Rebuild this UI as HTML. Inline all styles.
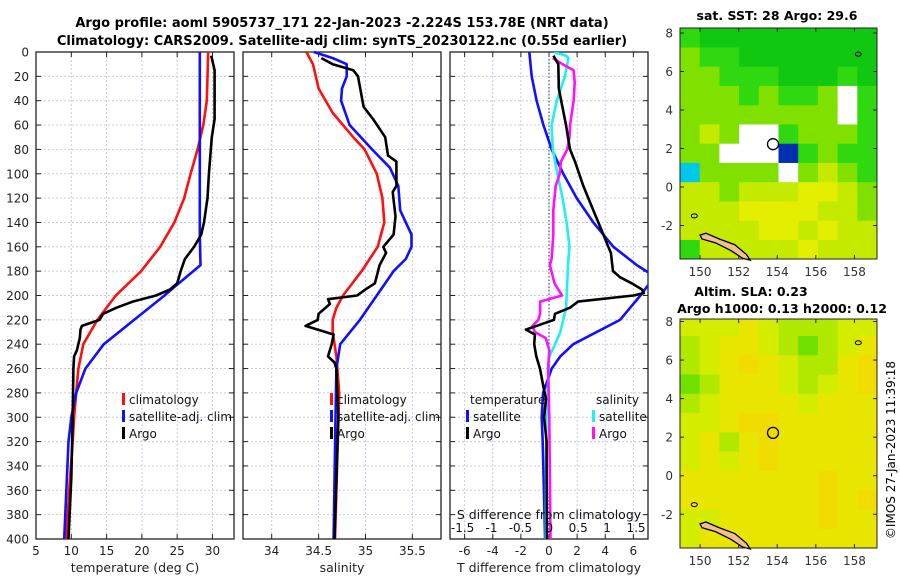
<!DOCTYPE html>
<html><head><meta charset="utf-8"><style>
body{margin:0;background:#fff;}
svg{display:block;font-family:"DejaVu Sans","Liberation Sans",sans-serif;}
</style></head><body>
<svg id="fig" width="900" height="580" viewBox="0 0 900 580" xmlns="http://www.w3.org/2000/svg">
<defs><clipPath id="clip3"><rect x="450" y="52" width="198" height="487"/></clipPath></defs>
<text x="342" y="27" text-anchor="middle" font-size="13" font-weight="bold">Argo profile: aoml 5905737_171 22-Jan-2023 -2.224S 153.78E (NRT data)</text>
<text x="342" y="45" text-anchor="middle" font-size="13" font-weight="bold">Climatology: CARS2009. Satellite-adj clim: synTS_20230122.nc (0.55d earlier)</text>
<g id="p1"></g>
<g id="p2"></g>
<g id="p3"></g>
<g id="m1"></g>
<g id="m2"></g>
<text x="777" y="20" text-anchor="middle" font-size="12.5" font-weight="bold">sat. SST: 28 Argo: 29.6</text>
<text x="751" y="296" text-anchor="middle" font-size="12.5" font-weight="bold">Altim. SLA: 0.23</text>
<text x="782" y="313" text-anchor="middle" font-size="12.5" font-weight="bold">Argo h1000: 0.13 h2000: 0.12</text>
<text transform="translate(895,450) rotate(-90)" text-anchor="middle" font-size="12">©IMOS 27-Jan-2023 11:39:18</text>
</svg>
<script>
const NS="http://www.w3.org/2000/svg";
// ---- profile data ----
const tClimDepth=[0,40,60,80,100,120,140,160,180,200,220,240,260,280,300,320,360,400];
const tClimVal=[29.4,29.2,28.7,27.9,26.9,26.0,24.6,22.6,19.9,16.3,13.7,11.7,11.0,10.7,10.4,10.2,9.7,9.3];
const tSatDepth=[0,150,175,193,200,220,240,260,280,300,320,400];
const tSatVal=[28.2,28.2,28.3,24.6,23.2,18.9,14.6,12.0,10.7,10.0,9.6,9.0];
const tArgoDepth=[3,5,15,55,70,100,120,140,150,160,170,180,190,195,200,205,210,215,220,225,228,235,245,250,260,300,350,400];
const tArgoVal=[29.8,29.9,30.3,30.3,29.9,29.5,29.3,28.8,28.4,27.4,26.1,25.5,25.0,24.0,22.0,18.7,16.4,14.5,14.0,11.5,11.3,11.2,10.8,10.4,10.3,10.2,10.0,9.6];
const sClimDepth=[0,10,30,50,70,80,100,120,140,160,180,200,210,220,230,250,280,400];
const sClimVal=[34.37,34.44,34.50,34.65,34.87,34.99,35.12,35.18,35.20,35.13,34.96,34.76,34.69,34.65,34.65,34.69,34.72,34.675];
const sSatDepth=[0,5,10,20,30,40,60,80,95,110,130,140,150,160,170,180,200,220,240,260,300,400];
const sSatVal=[34.45,34.65,34.80,34.80,34.75,34.74,34.83,35.07,35.26,35.35,35.37,35.43,35.49,35.49,35.43,35.30,35.12,34.94,34.73,34.69,34.68,34.66];
const sArgoDepth=[5,10,15,20,45,55,70,85,90,110,115,135,150,160,165,175,190,195,200,203,207,215,220,225,232,240,250,255,260,300,400];
const sArgoVal=[34.53,34.65,34.87,34.92,34.98,35.08,35.21,35.24,35.33,35.33,35.29,35.32,35.30,35.19,35.22,35.15,35.10,35.00,34.91,34.60,34.62,34.50,34.49,34.36,34.66,34.64,34.60,34.67,34.69,34.71,34.67];
const dTSatDepth=[0,20,40,60,80,100,120,140,160,175,185,193,200,220,240,250,260,280,300,320,400];
const dTSatVal=[-1.40,-1.23,-0.88,-0.40,0.19,1.02,1.97,3.15,4.58,6.24,7.6,6.95,6.5,5.05,1.73,0.8,0.19,-0.42,-0.52,-0.45,-0.28];
const dTArgoDepth=[3,10,30,60,80,90,110,130,150,160,165,175,180,185,190,195,198,200,205,210,215,220,224,228,232,240,250,260,275,285,300,320,400];
const dTArgoVal=[0.31,0.66,0.70,1.21,1.49,1.85,2.44,3.15,3.87,4.22,4.40,4.50,4.55,5.05,5.88,6.60,6.75,6.00,2.06,1.49,0.43,0.35,-0.64,-1.64,-1.00,-1.05,-0.90,-0.64,-0.40,-0.21,-0.35,-0.17,-0.15];
const dSSatDepth=[0,3,5,20,40,60,80,100,120,140,160,170,190,210,230,240,250,300,400];
const dSSatVal=[0.08,0.29,0.33,0.27,0.13,0.04,0.06,0.14,0.23,0.30,0.35,0.33,0.31,0.29,0.19,0.10,0.00,-0.05,-0.06];
const dSArgoDepth=[5,10,15,25,40,60,70,80,90,100,110,130,150,170,175,190,200,205,215,220,225,230,235,245,260,300,400];
const dSArgoVal=[0.06,0.23,0.42,0.44,0.42,0.36,0.35,0.31,0.20,0.18,0.11,0.07,0.07,0.04,0.01,0.09,0.22,-0.16,-0.16,-0.19,-0.29,-0.25,-0.06,0.00,-0.02,0.00,0.02];
const depthTicks=[0,20,40,60,80,100,120,140,160,180,200,220,240,260,280,300,320,340,360,380,400];
const tTicks=[5,10,15,20,25,30];
const sTicks=[34,34.5,35,35.5];
const dTTicks=[-6,-4,-2,0,2,4,6];
const dSTicks=[-1.5,-1,-0.5,0,0.5,1,1.5];
const dSTickLabels=["-1.5","-1","-0.5","0","0.5","1","1.5"];
// ---- map data (rows lat 8..-3, cols lon 149..158) ----
const sstGrid=[
[2,1,1,1,1,1,1,1,1,1],[3,2,2,1,1,1,1,1,1,1],[3,3,2,2,2,1,1,1,2,1],[3,3,3,2,3,2,2,3,0,2],
[3,3,3,3,3,3,3,3,0,2],[3,4,3,0,0,2,3,3,3,2],[3,3,0,0,0,7,2,3,2,2],[8,3,3,3,3,0,3,4,3,2],
[4,4,3,4,4,4,5,5,4,3],[4,4,4,5,5,5,5,4,4,3],[4,4,4,4,5,5,4,5,4,4],[2,4,4,4,4,4,5,4,4,4]];
const slaGrid=[
[2,2,2,1,2,3,3,3,2,2],[3,2,1,1,2,3,4,3,2,1],[3,2,1,0,1,2,3,3,1,0],[4,3,1,1,1,2,3,2,1,0],
[3,2,1,1,1,1,2,1,1,1],[2,2,1,0,0,1,1,1,1,1],[2,1,3,1,0,1,1,1,1,1],[2,1,2,1,0,1,1,1,1,1],
[1,1,1,1,1,1,1,0,1,1],[1,1,1,1,1,1,1,0,1,0],[2,2,1,1,1,1,1,0,1,1],[2,1,1,1,1,1,1,1,1,1]];
const sstColors=["#ffffff","#10c810","#30d810","#80e000","#c4ea00","#e4ee00","#f0d830","#0030b0","#00c8e8"];
const slaColors=["#f0dc00","#e8e600","#d4ec00","#b0e800","#70e000"];
const argoLon=153.78, argoLat=2.224;

function el(tag,attrs,parent,txt){const e=document.createElementNS(NS,tag);for(const k in attrs)e.setAttribute(k,attrs[k]);if(txt!==undefined)e.textContent=txt;parent.appendChild(e);return e;}
const Y0=52,Y1=539;
const yD=d=>Y0+(d/400)*(Y1-Y0);
function panel(g,x0,x1,xmin,xmax,vticks,labels){
  const sx=v=>x0+(v-xmin)/(xmax-xmin)*(x1-x0);
  for(const v of vticks){el('line',{x1:sx(v),x2:sx(v),y1:Y0,y2:Y1,stroke:'#c4cbe8','stroke-dasharray':'2,2','stroke-width':1},g);}
  for(const d of depthTicks){el('line',{x1:x0,x2:x1,y1:yD(d),y2:yD(d),stroke:'#c4cbe8','stroke-dasharray':'2,2','stroke-width':1},g);
    el('line',{x1:x0,x2:x0+5,y1:yD(d),y2:yD(d),stroke:'#222'},g);el('line',{x1:x1-5,x2:x1,y1:yD(d),y2:yD(d),stroke:'#222'},g);}
  if(labels){vticks.forEach((v,i)=>{el('line',{x1:sx(v),x2:sx(v),y1:Y1-5,y2:Y1,stroke:'#222'},g);el('line',{x1:sx(v),x2:sx(v),y1:Y0,y2:Y0+5,stroke:'#222'},g);
    const t=el('text',{x:sx(v),y:Y1+16,'text-anchor':'middle','font-size':12,fill:'#222'},g,labels[i]);});}
  el('rect',{x:x0,y:Y0,width:x1-x0,height:Y1-Y0,fill:'none',stroke:'#222','stroke-width':1.3},g);
  return sx;
}
function series(g,sx,ds,vs,color,name,clip){
  const pts=ds.map((d,i)=>sx(vs[i]).toFixed(1)+','+yD(d).toFixed(1)).join(' ');
  const p=el('polyline',{points:pts,fill:'none',stroke:color,'stroke-width':2.6,'stroke-linejoin':'round'},g);
  if(clip)p.setAttribute('clip-path','url(#'+clip+')');
  
  
}
function legendItem(g,x,y,color,label){
  el('rect',{x:x,y:y-7,width:3,height:12,fill:color},g);
  const t=el('text',{x:x+7,y:y+4,'font-size':12,fill:'#111'},g,label);
  
  
}
// panel 1
const g1=document.getElementById('p1');
const sx1=panel(g1,36,234,5,33.05,tTicks,tTicks.map(String));
depthTicks.forEach(d=>{const t=el('text',{x:29,y:yD(d)+4.5,'text-anchor':'end','font-size':12,fill:'#222'},g1,String(d));});
series(g1,sx1,tClimDepth,tClimVal,'#ff1010','temp-climatology-line');
series(g1,sx1,tSatDepth,tSatVal,'#1010ff','temp-satellite-line');
series(g1,sx1,tArgoDepth,tArgoVal,'#000','temp-argo-line');
el('text',{x:135,y:572,'text-anchor':'middle','font-size':12.5,fill:'#222'},g1,'temperature (deg C)');
legendItem(g1,122,400,'#ff1010','climatology');legendItem(g1,122,417,'#1010ff','satellite-adj. clim');legendItem(g1,122,434,'#000','Argo');
// panel 2
const g2=document.getElementById('p2');
const sx2=panel(g2,243,441,33.694,35.805,sTicks,sTicks.map(String));
series(g2,sx2,sClimDepth,sClimVal,'#ff1010','sal-climatology-line');
series(g2,sx2,sSatDepth,sSatVal,'#1010ff','sal-satellite-line');
series(g2,sx2,sArgoDepth,sArgoVal,'#000','sal-argo-line');
el('text',{x:342,y:572,'text-anchor':'middle','font-size':12.5,fill:'#222'},g2,'salinity');
legendItem(g2,330,400,'#ff1010','climatology');legendItem(g2,330,417,'#1010ff','satellite-adj. clim');legendItem(g2,330,434,'#000','Argo');
// panel 3
const g3=document.getElementById('p3');
const sx3=panel(g3,450,648,-7.04,7.04,dTTicks,dTTicks.map(String));
el('line',{x1:sx3(0),x2:sx3(0),y1:Y0,y2:Y1,stroke:'#333','stroke-dasharray':'1.5,2','stroke-width':1},g3);
const sxS=v=>549.3+v*57.8;
series(g3,sx3,dTSatDepth,dTSatVal,'#1010ff','dT-satellite-line','clip3');
series(g3,sxS,dSSatDepth,dSSatVal,'#20f0f0','dS-satellite-line','clip3');
series(g3,sxS,dSArgoDepth,dSArgoVal,'#ff10ff','dS-argo-line','clip3');
series(g3,sx3,dTArgoDepth,dTArgoVal,'#000','dT-argo-line','clip3');
dSTicks.forEach((v,i)=>{const t=el('text',{x:sxS(v),y:532,'text-anchor':'middle','font-size':12,fill:'#111'},g3,dSTickLabels[i]);});
el('text',{x:549,y:519,'text-anchor':'middle','font-size':12.5,fill:'#111'},g3,'S difference from climatology');
el('text',{x:549,y:572,'text-anchor':'middle','font-size':12.5,fill:'#222'},g3,'T difference from climatology');
el('text',{x:470,y:404,'font-size':12,fill:'#111'},g3,'temperature');
el('text',{x:596,y:404,'font-size':12,fill:'#111'},g3,'salinity');
legendItem(g3,466,417,'#1010ff','satellite');legendItem(g3,466,434,'#000','Argo');
legendItem(g3,592,417,'#20f0f0','satellite');legendItem(g3,592,434,'#ff10ff','Argo');
// maps
function map(g,x0,x1,y0,y1,grid,colors,latTop,latBot){
  const lonMin=148.96,lonMax=159.17;
  const mx=v=>x0+(v-lonMin)/(lonMax-lonMin)*(x1-x0);
  const my=v=>y0+(latTop-v)/(latTop-latBot)*(y1-y0);
  grid.forEach((row,r)=>row.forEach((c,ci)=>{
    const la=8.25-r, lo=lonMin+ci*(lonMax-lonMin)/10;
    const cx=mx(lo), cy=my(Math.min(la,latTop));
    const cell=el('rect',{x:cx,y:cy,width:(x1-x0)/10+0.5,height:my(Math.max(la-1,latBot))-cy+0.5,fill:colors[c]},g);
    
    
  }));
  const coast=[[150.0,-2.5],[150.3,-2.4],[151.0,-2.7],[151.8,-3.0],[152.4,-3.5],[152.6,-3.8],[152.2,-3.7],[151.6,-3.3],[150.8,-2.9],[150.1,-2.7]];
  const c=el('polygon',{points:coast.map(p=>mx(p[0])+','+my(p[1])).join(' '),fill:'#f0c090',stroke:'#000','stroke-width':1.3},g);
  
  el('ellipse',{cx:mx(149.7),cy:my(-1.5),rx:3,ry:2,fill:'none',stroke:'#000'},g);
  el('ellipse',{cx:mx(158.2),cy:my(6.9),rx:3,ry:2,fill:'none',stroke:'#000'},g);
  const ac=el('circle',{cx:mx(argoLon),cy:my(argoLat),r:5.5,fill:'none',stroke:'#000','stroke-width':1.3},g);
  
  el('rect',{x:x0,y:y0,width:x1-x0,height:y1-y0,fill:'none',stroke:'#222','stroke-width':1},g);
  [150,152,154,156,158].forEach(v=>{el('line',{x1:mx(v),x2:mx(v),y1:y1,y2:y1-4,stroke:'#222'},g);el('line',{x1:mx(v),x2:mx(v),y1:y0,y2:y0+4,stroke:'#222'},g);
    const t=el('text',{x:mx(v),y:y1+17,'text-anchor':'middle','font-size':12,fill:'#333'},g,String(v));});
  [8,6,4,2,0,-2].forEach(v=>{el('line',{x1:x0,x2:x0+4,y1:my(v),y2:my(v),stroke:'#222'},g);el('line',{x1:x1,x2:x1-4,y1:my(v),y2:my(v),stroke:'#222'},g);
    const t=el('text',{x:x0-7,y:my(v)+4.5,'text-anchor':'end','font-size':12,fill:'#333'},g,String(v));});
}
map(document.getElementById('m1'),680,877,28,259,sstGrid,sstColors,8.26,-3.74);
map(document.getElementById('m2'),680,877,319,548,slaGrid,slaColors,8.13,-3.75);
</script>
</body></html>
